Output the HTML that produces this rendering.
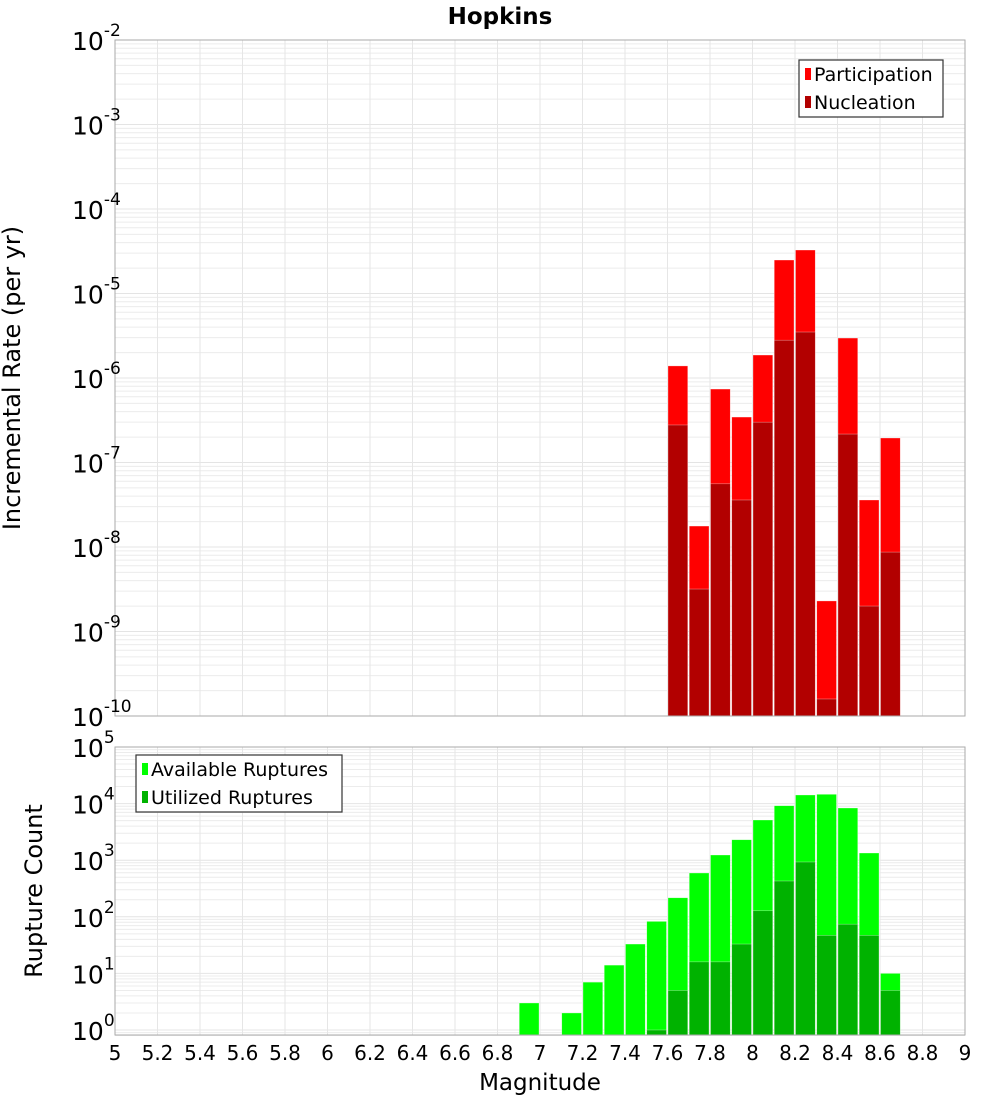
<!DOCTYPE html>
<html><head><meta charset="utf-8"><style>
body{margin:0;background:#fff;}
svg text{font-family:"DejaVu Sans","Liberation Sans",sans-serif;}
</style></head><body>
<svg id="chart" width="1000" height="1100" xmlns="http://www.w3.org/2000/svg">
<text x="500" y="24" text-anchor="middle" font-size="23" font-weight="bold">Hopkins</text>
<text transform="translate(20,378) rotate(-90)" text-anchor="middle" font-size="24">Incremental Rate (per yr)</text>
<text transform="translate(42,891) rotate(-90)" text-anchor="middle" font-size="24">Rupture Count</text>
<text x="540" y="1090" text-anchor="middle" font-size="23">Magnitude</text>
<g id="grid"></g><g id="bars"></g><g id="axes"></g>
</svg>
<script>
const bins=[7.6,7.7,7.8,7.9,8.0,8.1,8.2,8.3,8.4,8.5,8.6];
const participation=[1.39e-6,1.77e-8,7.4e-7,3.45e-7,1.87e-6,2.49e-5,3.27e-5,2.3e-9,2.97e-6,3.6e-8,1.95e-7];
const nucleation=[2.78e-7,3.18e-9,5.6e-8,3.6e-8,3.0e-7,2.8e-6,3.5e-6,1.59e-10,2.17e-7,2.0e-9,8.7e-9];
const countBins=[6.9,7.0,7.1,7.2,7.3,7.4,7.5,7.6,7.7,7.8,7.9,8.0,8.1,8.2,8.3,8.4,8.5,8.6];
const available=[3,0,2,7,14,33,83,217,594,1236,2300,5130,9180,14200,14600,8360,1340,10];
const utilized=[0,0,0,0,0,0,1,5,16,16,33,128,429,930,47,74,47,5];
const xTicks=[5,5.2,5.4,5.6,5.8,6,6.2,6.4,6.6,6.8,7,7.2,7.4,7.6,7.8,8,8.2,8.4,8.6,8.8,9];
const topExps=[-2,-3,-4,-5,-6,-7,-8,-9,-10];
const botExps=[5,4,3,2,1,0];

const NS="http://www.w3.org/2000/svg";
const X0=115,X1=965;
const xs=m=>X0+(m-5)/4*(X1-X0);
const T0=40,T1=716;
const yTop=v=>T0+(-2-Math.log10(v))/8*(T1-T0);
const B0=747,B1=1035,BD=56.6;
const yBot=v=>B0+(5-Math.log10(v))*BD;
function mk(tag,attrs,parent){const e=document.createElementNS(NS,tag);for(const k in attrs)e.setAttribute(k,attrs[k]);parent.appendChild(e);return e;}
const grid=document.getElementById('grid'),bars=document.getElementById('bars'),axes=document.getElementById('axes');
function panelGrid(yt,yb,yfn,eMin,eMax){
  for(let e=eMin;e<eMax;e++)for(let k=1;k<10;k++){const y=yfn(k*Math.pow(10,e));if(y<yt-0.5||y>yb+0.5)continue;
    const l=mk('line',{x1:X0,x2:X1,y1:y,y2:y,stroke:k==1?'#e4e4e4':'#ececec','stroke-width':1},grid);
    }
  xTicks.forEach(t=>{const x=xs(t);const l=mk('line',{x1:x,x2:x,y1:yt,y2:yb,stroke:'#e6e6e6','stroke-width':1},grid);
    });
}
panelGrid(T0,T1,yTop,-10,-1);
panelGrid(B0,B1,yBot,-1,6);
const bw=(X1-X0)/40;
function bar(m,v,yfn,yb,color,name){if(!(v>0))return;const x=xs(m)+0.5,y=Math.max(yfn(v),0);
  const r=mk('rect',{x:x,y:y,width:bw-1.5,height:yb-y,fill:color,stroke:'rgba(255,255,255,0.5)','stroke-width':0.6},bars);
  }
bins.forEach((m,i)=>bar(m,participation[i],yTop,T1,'#ff0000','participation-bar'));
bins.forEach((m,i)=>bar(m,nucleation[i],yTop,T1,'#b20000','nucleation-bar'));
countBins.forEach((m,i)=>bar(m,available[i],yBot,B1,'#00ff00','available-ruptures-bar'));
countBins.forEach((m,i)=>bar(m,utilized[i],yBot,B1,'#00b200','utilized-ruptures-bar'));
[[T0,T1,'top-plot-frame'],[B0,B1,'bottom-plot-frame']].forEach(([a,b,n])=>{const r=mk('rect',{x:X0,y:a,width:X1-X0,height:b-a,fill:'none',stroke:'#aaa','stroke-width':1},axes);
  });
function ylab(y,e,name){const t=mk('text',{x:72,y:y+10,'font-size':25},axes);t.textContent='10';
  const s=mk('tspan',{dy:-14,'font-size':17},t);s.textContent=String(e);
  }
topExps.forEach(e=>ylab(yTop(Math.pow(10,e)),e,'top-y-tick-label'));
botExps.forEach(e=>ylab(yBot(Math.pow(10,e)),e,'bottom-y-tick-label'));
xTicks.forEach(t=>{const l=mk('text',{x:xs(t),y:1060,'text-anchor':'middle','font-size':20},axes);l.textContent=String(t);
  });
function legend(x,y,w,items,name){const g=mk('g',{},axes);
  mk('rect',{x:x,y:y,width:w,height:57,fill:'#fff',stroke:'#333','stroke-width':1.2},g);
  items.forEach(([c,txt],i)=>{const yy=y+14+i*28;
    const sw=mk('rect',{x:x+6,y:yy-6,width:6,height:12,fill:c},g);
    const t=mk('text',{x:x+15,y:yy+7,'font-size':19},g);t.textContent=txt;});}
legend(799,60,144,[['#ff0000','Participation'],['#b20000','Nucleation']],'top-legend');
legend(136,755,206,[['#00ff00','Available Ruptures'],['#00b200','Utilized Ruptures']],'bottom-legend');
</script>
</body></html>
